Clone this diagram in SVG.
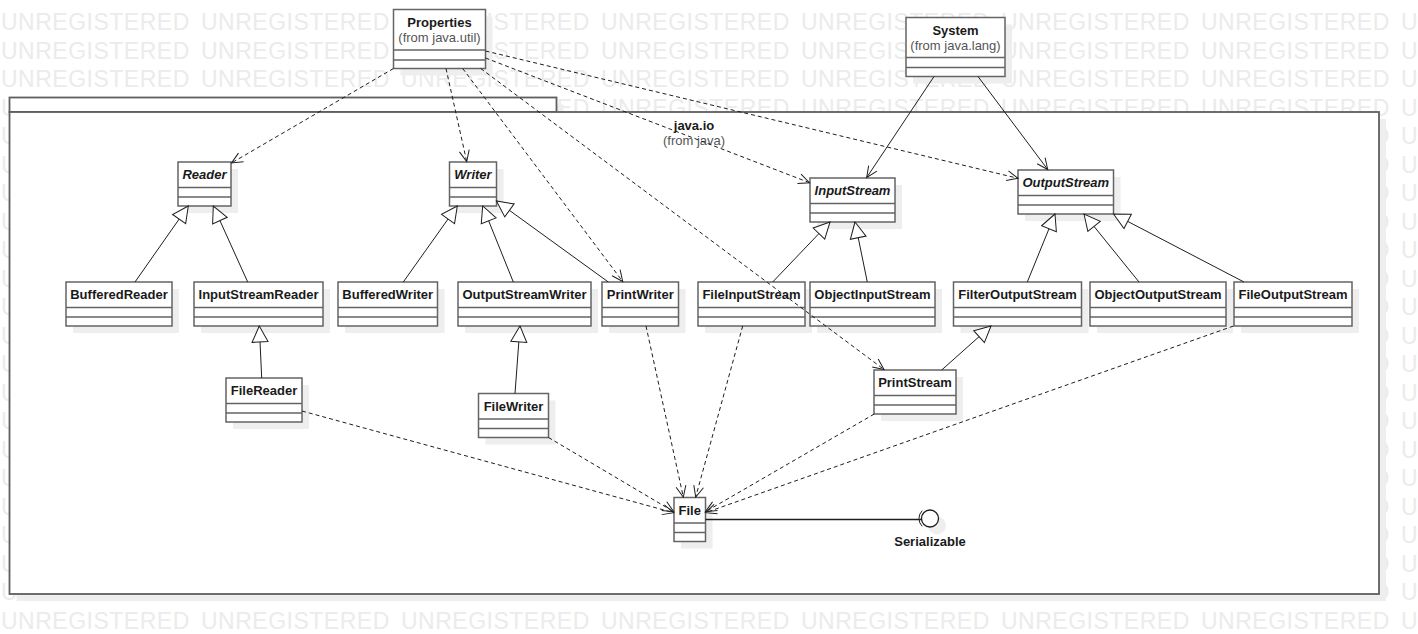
<svg xmlns="http://www.w3.org/2000/svg" xmlns:xlink="http://www.w3.org/1999/xlink" width="1418" height="634" viewBox="0 0 1418 634">
<style>
.wm{font-family:"Liberation Sans",Arial,sans-serif;font-size:23px;letter-spacing:0.5px;fill:#ebebeb}
.sh{fill:#eeeeee}
.box{fill:#ffffff;stroke:#646464;stroke-width:1.5}
.sep{fill:none;stroke:#646464;stroke-width:1.5}
.nm{font-family:"Liberation Sans",Arial,sans-serif;font-size:13px;font-weight:bold;fill:#1a1a1a;text-anchor:middle}
.it{font-style:italic}
.from{font-family:"Liberation Sans",Arial,sans-serif;font-size:13px;fill:#555555;text-anchor:middle}
.pkg{fill:#ffffff;stroke:#5e5e5e;stroke-width:1.8}
.gen{fill:none;stroke:#1e1e1e;stroke-width:1;marker-end:url(#tri)}
.dep{fill:none;stroke:#1e1e1e;stroke-width:1;stroke-dasharray:4 3;marker-end:url(#open)}
.asc{fill:none;stroke:#1e1e1e;stroke-width:1;marker-end:url(#open)}
.real{fill:none;stroke:#1e1e1e;stroke-width:1.4}
</style>
<defs>
<marker id="tri" viewBox="-1 -1 20 20" markerWidth="20" markerHeight="20" refX="16" refY="8" orient="auto" markerUnits="userSpaceOnUse">
<path d="M16,8 L0,0 L0,16 Z" fill="#ffffff" stroke="#1e1e1e" stroke-width="1"/>
</marker>
<marker id="open" viewBox="-1 -1 14 12" markerWidth="14" markerHeight="12" refX="11" refY="5" orient="auto" markerUnits="userSpaceOnUse">
<path d="M0,0 L11,5 L0,10" fill="none" stroke="#1e1e1e" stroke-width="1"/>
</marker>
<text id="wmrow" class="wm"><tspan x="1">UNREGISTERED</tspan><tspan x="201">UNREGISTERED</tspan><tspan x="401">UNREGISTERED</tspan><tspan x="601">UNREGISTERED</tspan><tspan x="801">UNREGISTERED</tspan><tspan x="1001">UNREGISTERED</tspan><tspan x="1201">UNREGISTERED</tspan><tspan x="1401">U</tspan></text>
</defs>
<rect x="0" y="0" width="1418" height="634" fill="#ffffff"/>
<g id="watermark">
<use xlink:href="#wmrow" y="30"/>
<use xlink:href="#wmrow" y="58.5"/>
<use xlink:href="#wmrow" y="87"/>
<use xlink:href="#wmrow" y="115.5"/>
<use xlink:href="#wmrow" y="144"/>
<use xlink:href="#wmrow" y="172.5"/>
<use xlink:href="#wmrow" y="201"/>
<use xlink:href="#wmrow" y="229.5"/>
<use xlink:href="#wmrow" y="258"/>
<use xlink:href="#wmrow" y="286.5"/>
<use xlink:href="#wmrow" y="315"/>
<use xlink:href="#wmrow" y="343.5"/>
<use xlink:href="#wmrow" y="372"/>
<use xlink:href="#wmrow" y="400.5"/>
<use xlink:href="#wmrow" y="429"/>
<use xlink:href="#wmrow" y="457.5"/>
<use xlink:href="#wmrow" y="486"/>
<use xlink:href="#wmrow" y="514.5"/>
<use xlink:href="#wmrow" y="543"/>
<use xlink:href="#wmrow" y="571.5"/>
<use xlink:href="#wmrow" y="600"/>
<use xlink:href="#wmrow" y="628.5"/>
</g>
<g id="package-java-io">
<rect class="sh" x="16.5" y="104.5" width="547" height="14.5"/>
<rect class="sh" x="16.5" y="119" width="1369.5" height="482"/>
<rect class="pkg" x="9.5" y="97.5" width="547" height="14.5"/>
<rect class="pkg" x="9.5" y="112" width="1369.5" height="482"/>
<text class="nm" x="694" y="130">java.io</text>
<text class="from" x="694" y="145">(from java)</text>
</g>
<g id="n-Properties"><rect class="sh" x="400.5" y="16.5" width="92" height="59"/><rect class="box" x="393.5" y="9.5" width="92" height="59"/><path class="sep" d="M393.5,50H485.5M393.5,60H485.5"/><text class="nm" x="439.5" y="26.7">Properties</text><text class="from" x="439.5" y="42.3">(from java.util)</text></g>
<g id="n-System"><rect class="sh" x="913" y="24.5" width="99" height="59"/><rect class="box" x="906" y="17.5" width="99" height="59"/><path class="sep" d="M906,57.5H1005M906,67.5H1005"/><text class="nm" x="955.5" y="35">System</text><text class="from" x="955.5" y="50.3">(from java.lang)</text></g>
<g id="n-Reader"><rect class="sh" x="185" y="169" width="53" height="44"/><rect class="box" x="178" y="162" width="53" height="44"/><path class="sep" d="M178,187.5H231M178,197H231"/><text class="nm it" x="204.5" y="179">Reader</text></g>
<g id="n-Writer"><rect class="sh" x="456.5" y="169" width="47" height="44"/><rect class="box" x="449.5" y="162" width="47" height="44"/><path class="sep" d="M449.5,187.5H496.5M449.5,197H496.5"/><text class="nm it" x="473" y="179">Writer</text></g>
<g id="n-InputStream"><rect class="sh" x="817" y="185" width="85" height="44"/><rect class="box" x="810" y="178" width="85" height="44"/><path class="sep" d="M810,203.5H895M810,213H895"/><text class="nm it" x="852.5" y="195">InputStream</text></g>
<g id="n-OutputStream"><rect class="sh" x="1025" y="177" width="95.5" height="44"/><rect class="box" x="1018" y="170" width="95.5" height="44"/><path class="sep" d="M1018,195.5H1113.5M1018,205H1113.5"/><text class="nm it" x="1065.75" y="187">OutputStream</text></g>
<g id="n-BufferedReader"><rect class="sh" x="73" y="289" width="106" height="44"/><rect class="box" x="66" y="282" width="106" height="44"/><path class="sep" d="M66,307.5H172M66,317H172"/><text class="nm" x="119" y="299">BufferedReader</text></g>
<g id="n-InputStreamReader"><rect class="sh" x="201" y="289" width="129" height="44"/><rect class="box" x="194" y="282" width="129" height="44"/><path class="sep" d="M194,307.5H323M194,317H323"/><text class="nm" x="258.5" y="299">InputStreamReader</text></g>
<g id="n-BufferedWriter"><rect class="sh" x="345" y="289" width="99.5" height="44"/><rect class="box" x="338" y="282" width="99.5" height="44"/><path class="sep" d="M338,307.5H437.5M338,317H437.5"/><text class="nm" x="387.75" y="299">BufferedWriter</text></g>
<g id="n-OutputStreamWriter"><rect class="sh" x="465" y="289" width="133" height="44"/><rect class="box" x="458" y="282" width="133" height="44"/><path class="sep" d="M458,307.5H591M458,317H591"/><text class="nm" x="524.5" y="299">OutputStreamWriter</text></g>
<g id="n-PrintWriter"><rect class="sh" x="609" y="289" width="76.5" height="44"/><rect class="box" x="602" y="282" width="76.5" height="44"/><path class="sep" d="M602,307.5H678.5M602,317H678.5"/><text class="nm" x="640.25" y="299">PrintWriter</text></g>
<g id="n-FileInputStream"><rect class="sh" x="705" y="289" width="107" height="44"/><rect class="box" x="698" y="282" width="107" height="44"/><path class="sep" d="M698,307.5H805M698,317H805"/><text class="nm" x="751.5" y="299">FileInputStream</text></g>
<g id="n-ObjectInputStream"><rect class="sh" x="817" y="289" width="125" height="44"/><rect class="box" x="810" y="282" width="125" height="44"/><path class="sep" d="M810,307.5H935M810,317H935"/><text class="nm" x="872.5" y="299">ObjectInputStream</text></g>
<g id="n-FilterOutputStream"><rect class="sh" x="960.5" y="289" width="128" height="44"/><rect class="box" x="953.5" y="282" width="128" height="44"/><path class="sep" d="M953.5,307.5H1081.5M953.5,317H1081.5"/><text class="nm" x="1017.5" y="299">FilterOutputStream</text></g>
<g id="n-ObjectOutputStream"><rect class="sh" x="1097" y="289" width="136" height="44"/><rect class="box" x="1090" y="282" width="136" height="44"/><path class="sep" d="M1090,307.5H1226M1090,317H1226"/><text class="nm" x="1158" y="299">ObjectOutputStream</text></g>
<g id="n-FileOutputStream"><rect class="sh" x="1241" y="289" width="118" height="44"/><rect class="box" x="1234" y="282" width="118" height="44"/><path class="sep" d="M1234,307.5H1352M1234,317H1352"/><text class="nm" x="1293" y="299">FileOutputStream</text></g>
<g id="n-FileReader"><rect class="sh" x="233" y="385" width="76" height="44"/><rect class="box" x="226" y="378" width="76" height="44"/><path class="sep" d="M226,403.5H302M226,413H302"/><text class="nm" x="264" y="395">FileReader</text></g>
<g id="n-FileWriter"><rect class="sh" x="485.5" y="400.5" width="70" height="44"/><rect class="box" x="478.5" y="393.5" width="70" height="44"/><path class="sep" d="M478.5,419H548.5M478.5,428.5H548.5"/><text class="nm" x="513.5" y="410.5">FileWriter</text></g>
<g id="n-PrintStream"><rect class="sh" x="881" y="377" width="82" height="44"/><rect class="box" x="874" y="370" width="82" height="44"/><path class="sep" d="M874,395.5H956M874,405H956"/><text class="nm" x="915" y="387">PrintStream</text></g>
<g id="n-File"><rect class="sh" x="681" y="504.5" width="31.5" height="44"/><rect class="box" x="674" y="497.5" width="31.5" height="44"/><path class="sep" d="M674,523H705.5M674,532.5H705.5"/><text class="nm" x="689.75" y="514.5">File</text></g>
<g id="n-Serializable"><circle cx="937" cy="525.5" r="9" fill="#eeeeee"/><circle cx="930" cy="518.5" r="8.5" fill="#ffffff" stroke="#1e1e1e" stroke-width="1.3"/><path d="M922.2,510.7 A11,11 0 0,0 922.2,526.3" fill="none" stroke="#1e1e1e" stroke-width="1"/><text class="nm" x="930" y="546">Serializable</text></g>
<g id="connectors">
<path class="gen" d="M135,282L188.3,206"/>
<path class="gen" d="M247.7,282L213.3,206"/>
<path class="gen" d="M261.7,378L259.3,326"/>
<path class="gen" d="M403.3,282L457.3,206"/>
<path class="gen" d="M513.3,282L482.7,206"/>
<path class="gen" d="M608.3,282L496.5,201"/>
<path class="gen" d="M515,393.5L520,326"/>
<path class="gen" d="M772.7,282L830,222"/>
<path class="gen" d="M867.3,282L855,222"/>
<path class="gen" d="M1027.3,282L1055,214"/>
<path class="gen" d="M1139,282L1084,214"/>
<path class="gen" d="M1244,282L1113.5,214"/>
<path class="gen" d="M941.7,370L991,326"/>
<path class="dep" d="M393.5,68.5L231.5,163"/>
<path class="dep" d="M446,68.5L466.7,161.5"/>
<path class="dep" d="M462.7,68.5L622.7,281.5"/>
<path class="dep" d="M480.7,68.5L884,369.5"/>
<path class="dep" d="M485.5,58L809.5,182.7"/>
<path class="dep" d="M485.5,51L1018,178.3"/>
<path class="dep" d="M646,326L683.3,497"/>
<path class="dep" d="M742.7,326L695.7,497"/>
<path class="dep" d="M874.3,414L705.5,511.7"/>
<path class="dep" d="M1233.5,326L705.5,512.7"/>
<path class="dep" d="M302,411L673.7,512.7"/>
<path class="dep" d="M548.5,437.5L673.7,511.7"/>
<path class="asc" d="M934,76.5L866.7,177.5"/>
<path class="asc" d="M978,76.5L1047.7,169.5"/>
<path class="real" d="M705.5,519.5L921.5,519.5"/>
</g>
</svg>
